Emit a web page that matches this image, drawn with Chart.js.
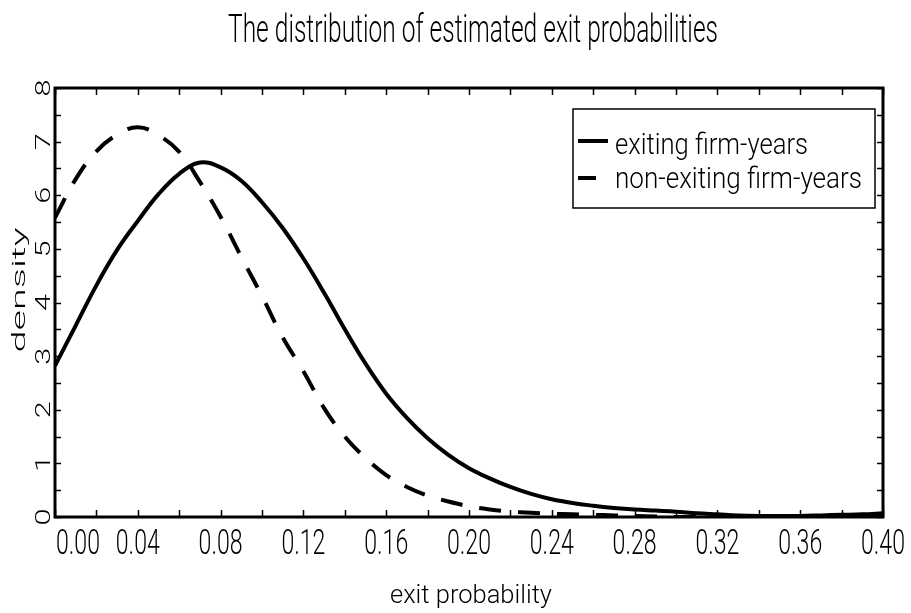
<!DOCTYPE html>
<html>
<head>
<meta charset="utf-8">
<title>The distribution of estimated exit probabilities</title>
<script src="https://cdn.jsdelivr.net/npm/chart.js@4.4.1/dist/chart.umd.min.js"></script>
<style>
  html, body { margin: 0; padding: 0; background: #fff; }
  #wrap { width: 911px; height: 613px; position: relative; }
</style>
</head>
<body>
<div id="wrap"><canvas id="densityChart"></canvas></div>
<script>
// Values
const probGrid = [0.00, 0.01, 0.02, 0.03, 0.04, 0.05, 0.06, 0.07, 0.08, 0.09,
  0.10, 0.11, 0.12, 0.13, 0.14, 0.15, 0.16, 0.17, 0.18, 0.19,
  0.20, 0.21, 0.22, 0.23, 0.24, 0.25, 0.26, 0.27, 0.28, 0.29,
  0.30, 0.31, 0.32, 0.33, 0.34, 0.35, 0.36, 0.37, 0.38, 0.39, 0.40];

const exitingDensity = [2.82, 3.57, 4.32, 4.98, 5.52, 6.02, 6.40, 6.61, 6.52, 6.27,
  5.87, 5.39, 4.82, 4.18, 3.50, 2.86, 2.30, 1.85, 1.47, 1.16,
  0.91, 0.72, 0.56, 0.43, 0.33, 0.26, 0.21, 0.17, 0.14, 0.12,
  0.10, 0.07, 0.05, 0.03, 0.02, 0.02, 0.02, 0.03, 0.04, 0.05, 0.07];

const nonExitingDensity = [5.58, 6.30, 6.82, 7.13, 7.27, 7.12, 6.81, 6.25, 5.60, 4.85,
  4.12, 3.35, 2.72, 2.03, 1.50, 1.10, 0.78, 0.56, 0.40, 0.29,
  0.20, 0.14, 0.10, 0.08, 0.06, 0.05, 0.04, 0.03, 0.02, 0.01,
  0.00, 0.00, 0.00, 0.00, 0.00, 0.00, 0.00, 0.00, 0.00, 0.00, 0.00];

const xTickLabels = ['0.00', '0.04', '0.08', '0.12', '0.16', '0.20', '0.24', '0.28', '0.32', '0.36', '0.40'];
const yTickLabels = ['0', '1', '2', '3', '4', '5', '6', '7', '8'];

const FONT = '"Roboto", "Liberation Sans", sans-serif';

function toPoints(values) {
  return probGrid.map((p, i) => ({ x: p, y: values[i] }));
}

// draw text squeezed/stretched horizontally so it fills a given width
function drawText(ctx, text, x, y, size, width, opts) {
  opts = opts || {};
  ctx.save();
  ctx.font = '300 ' + size + 'px ' + FONT;
  const natural = ctx.measureText(opts.sample || text).width;
  const sx = width / natural;
  ctx.translate(x, y);
  if (opts.rotate) ctx.rotate(opts.rotate);
  ctx.scale(sx, 1);
  ctx.fillStyle = '#000';
  ctx.textAlign = opts.align || 'center';
  ctx.textBaseline = 'alphabetic';
  ctx.fillText(text, 0, 0);
  ctx.restore();
}

// frame, inside ticks, tick labels and titles
const framePlugin = {
  id: 'frame',
  afterDatasetsDraw(chart) {
    const ctx = chart.ctx;
    const area = chart.chartArea;
    const xs = chart.scales.x;
    const ys = chart.scales.y;

    ctx.save();
    ctx.strokeStyle = '#000';
    ctx.lineWidth = 1.5;
    ctx.beginPath();
    xs.ticks.forEach(t => {
      const px = Math.round(xs.getPixelForValue(t.value)) + 0.5;
      ctx.moveTo(px, area.bottom);
      ctx.lineTo(px, area.bottom - 7);
      ctx.moveTo(px, area.top);
      ctx.lineTo(px, area.top + 7);
    });
    ys.ticks.forEach(t => {
      const py = Math.round(ys.getPixelForValue(t.value)) + 0.5;
      ctx.moveTo(area.left, py);
      ctx.lineTo(area.left + 6, py);
      ctx.moveTo(area.right, py);
      ctx.lineTo(area.right - 6, py);
    });
    ctx.stroke();

    ctx.lineWidth = 3;
    ctx.strokeRect(area.left, area.top, area.right - area.left, area.bottom - area.top);
    ctx.restore();

    // x tick labels
    xTickLabels.forEach((lab, i) => {
      let px = xs.getPixelForValue(parseFloat(lab));
      if (i === 0) px = area.left + 23;
      drawText(ctx, lab, px, 554, 35, 44, { sample: '0.00' });
    });
    // y tick labels, rotated
    yTickLabels.forEach(lab => {
      const py = ys.getPixelForValue(parseFloat(lab));
      drawText(ctx, lab, 50, py, 21, 17, { sample: '0', rotate: -Math.PI / 2 });
    });

    drawText(ctx, 'The distribution of estimated exit probabilities', 473, 42, 38, 490);
    drawText(ctx, 'exit probability', 471, 603, 25, 162);
    drawText(ctx, 'density', 25, 290, 19, 125, { rotate: -Math.PI / 2 });
  }
};

// boxed legend inside the plot, top right
const boxLegendPlugin = {
  id: 'boxLegend',
  afterDraw(chart) {
    const ctx = chart.ctx;
    const box = { left: 573, top: 109, right: 875, bottom: 208 };
    ctx.save();
    ctx.fillStyle = '#fff';
    ctx.fillRect(box.left, box.top, box.right - box.left, box.bottom - box.top);
    ctx.strokeStyle = '#000';
    ctx.lineWidth = 1.5;
    ctx.strokeRect(box.left, box.top, box.right - box.left, box.bottom - box.top);

    const rows = [
      { y: 154, lineY: 141, lineEnd: 608, textWidth: 193 },
      { y: 188, lineY: 178, lineEnd: 596, textWidth: 247 }
    ];
    chart.data.datasets.forEach((ds, i) => {
      const r = rows[i];
      ctx.beginPath();
      ctx.lineWidth = 4;
      ctx.lineCap = 'butt';
      ctx.moveTo(578, r.lineY);
      ctx.lineTo(r.lineEnd, r.lineY);
      ctx.stroke();
      drawText(ctx, ds.label, 615, r.y, 29, r.textWidth, { align: 'left' });
    });
    ctx.restore();
  }
};

const ctx = document.getElementById('densityChart').getContext('2d');
const densityChart = new Chart(ctx, {
  type: 'line',
  data: {
    datasets: [{
      label: 'exiting firm-years',
      data: toPoints(exitingDensity),
      borderColor: '#000',
      borderWidth: 4,
      pointRadius: 0,
      tension: 0.4,
      fill: false
    }, {
      label: 'non-exiting firm-years',
      data: toPoints(nonExitingDensity),
      borderColor: '#000',
      borderWidth: 4,
      borderDash: [22, 17],
      pointRadius: 0,
      tension: 0.4,
      fill: false
    }]
  },
  options: {
    responsive: true,
    maintainAspectRatio: false,
    animation: false,
    devicePixelRatio: 1,
    layout: {
      padding: { left: 55, right: 28, top: 88, bottom: 96 }
    },
    plugins: {
      legend: { display: false },
      title: { display: false },
      tooltip: { enabled: false }
    },
    scales: {
      x: {
        type: 'linear',
        min: 0,
        max: 0.4,
        ticks: { display: false, stepSize: 0.02 },
        grid: { display: false },
        border: { display: false },
        afterFit: s => { s.height = 0; }
      },
      y: {
        type: 'linear',
        min: 0,
        max: 8,
        ticks: { display: false, stepSize: 0.5 },
        grid: { display: false },
        border: { display: false },
        afterFit: s => { s.width = 0; }
      }
    }
  },
  plugins: [framePlugin, boxLegendPlugin]
});
</script>
</body>
</html>
